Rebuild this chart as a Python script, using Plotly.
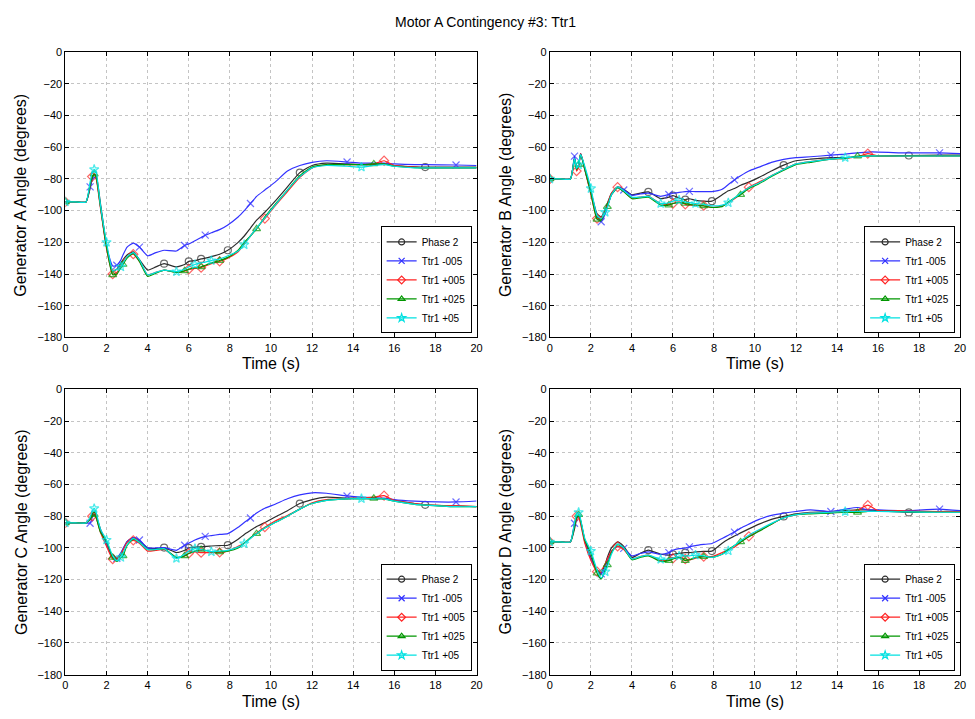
import plotly.graph_objects as go

# ---------------- data ----------------
T = [0, 0.5, 1.0, 1.2, 1.3, 1.4, 1.5, 1.7, 2.0, 2.3, 2.5, 2.7, 2.8, 3.0, 3.3, 3.6,
     4.0, 4.4, 4.8, 5.4, 5.8, 6.0, 6.3, 6.6, 6.8, 7.1, 7.5, 7.9, 8.4, 8.7, 9.0, 9.3,
     9.7, 10.2, 10.8, 11.4, 12.0, 12.7, 13.7, 14.4, 15.0, 15.5, 16.0, 17.0, 17.5, 19.0, 20.0]

SERIES_NAMES = ["Phase 2", "Ttr1 -005", "Ttr1 +005", "Ttr1 +025", "Ttr1 +05"]

MARK_P2 = [4.8, 6.0, 6.6, 7.9, 11.4, 17.5]
MARK_B = [1.2, 2.5, 3.6, 5.8, 6.8, 9.0, 13.7, 19.0]
MARK_R = [0, 1.3, 2.3, 3.3, 6.0, 6.6, 7.5, 9.7, 15.5]
MARK_G = [0, 1.4, 2.3, 2.8, 5.8, 6.6, 7.5, 9.3, 15.0]
MARK_C = [0, 1.4, 2.0, 2.7, 5.4, 6.3, 7.1, 8.7, 14.4]

# Generator A
A_P2 = [-94.5, -94.5, -94.5, -86, -80, -77, -78, -95, -122, -138, -137, -133, -131, -128, -126, -131,
        -137.5, -135.5, -133.5, -135.5, -134, -132, -131.5, -130.5, -130, -129, -127.5, -125, -120, -116,
        -111, -106, -101, -94, -85, -76, -71.5, -70, -70.5, -71, -71, -70.5, -71.5, -72.3, -72.5, -72.5, -72.5]
A_B = [-94.5, -94.5, -94.5, -85, -81, -79, -80, -97, -123, -135, -134.5, -131, -128, -123, -120.5, -123,
       -128.5, -126.5, -125, -125.5, -122, -121, -119, -117, -115.5, -114, -112, -109, -104, -100,
       -95.5, -91, -87, -82, -75, -71.5, -69.5, -68.5, -69.3, -70, -70, -70, -70.5, -71, -71, -71.2, -71.5]
A_R = [-94.5, -94.5, -94.5, -84, -78.5, -77, -80, -98, -124, -140, -139, -135, -132, -129, -127.5, -132,
       -140.5, -139, -137.5, -139, -138, -137, -136.5, -136, -135, -133.5, -132, -130, -126, -121,
       -116, -111, -105, -97, -88, -79, -73, -71, -71, -71, -70.5, -68.5, -71.5, -72.5, -73, -73, -73]
A_G = [-94.5, -94.5, -94.5, -84, -79, -77, -79, -97, -123, -140.5, -140, -136, -134, -130, -127, -132,
       -141.5, -139.5, -137.5, -139, -138, -137, -136, -135.5, -134.5, -133, -131.5, -129.5, -125, -120,
       -116, -111.5, -104, -96, -87, -78, -72.5, -71, -71, -71, -70.5, -70.5, -72, -72.8, -73, -73, -73]
A_C = [-94.5, -94.5, -94.5, -82, -76, -74, -76, -96, -120, -138, -137, -135.5, -133, -129, -126.5, -131,
       -140.5, -139, -137.5, -138.5, -137, -135.5, -134, -133, -132.5, -131.5, -130.5, -128.5, -125.5, -121.5,
       -116, -111, -104.5, -96.5, -87, -78.5, -73, -71.5, -72, -72.5, -71.5, -71, -72, -73, -73, -73, -73]

# Generator B
B_P2 = [-80, -80, -80, -67, -74, -71, -64, -73, -88, -102, -104, -99, -95.5, -89, -85, -86.5,
        -90, -89, -88.2, -92.4, -91.5, -90.5, -92, -93, -92.5, -93.5, -94, -94, -90, -87.5,
        -86, -84, -82, -79, -75, -71.3, -68.5, -67.5, -66.5, -66.5, -66, -65.5, -65.5, -65.3, -65.2, -65, -65]
B_B = [-80, -80, -80, -65.6, -73, -72, -64, -74, -89, -104, -107, -102, -98, -90, -85.5, -87,
       -90.3, -89.5, -89, -91, -89.8, -89, -88.5, -88, -87.8, -88, -88, -88, -86.5, -83.5,
       -80.6, -78, -75, -72.5, -69.5, -67.6, -66.5, -66, -65, -64.3, -63.5, -63, -63, -63.5, -63.5, -63.5, -64]
B_R = [-80, -80, -80, -68, -75, -72, -64, -74, -90, -105, -104.5, -100, -96.5, -89, -85.2, -88,
       -92, -91.5, -91, -95.5, -96, -95.5, -94.5, -96, -96.5, -96.5, -96.9, -98, -97, -95,
       -92.5, -89.5, -85.2, -82, -78, -74, -70.5, -69, -67.5, -67, -66, -64, -65.5, -65.5, -65.5, -65.5, -65.5]
B_G = [-80, -80, -80, -67, -74, -71, -64.5, -74, -89, -105.5, -106, -100.5, -97.5, -90, -85.5, -88,
       -92.5, -92, -91.5, -96.5, -96.5, -95.5, -95, -95.5, -96, -96.5, -97, -98, -97.5, -94.5,
       -92, -89.9, -86, -83, -78.5, -74.5, -71, -69.5, -67.5, -67, -65.6, -65.5, -65.5, -65.5, -65.5, -65.5, -65.5]
B_C = [-80, -80, -80, -67, -73, -71, -64.5, -72, -86, -103, -105, -101, -98, -90, -85, -87.5,
       -91.5, -91.5, -91, -95.5, -95, -94, -93.4, -94.5, -95, -95.5, -96, -97, -96.5, -95,
       -92, -89, -85.5, -82.5, -78, -74, -70.5, -69, -67.5, -66.5, -66, -65.5, -65.5, -65.5, -65.5, -65.5, -65.5]

# Generator C
C_P2 = [-84.2, -84.2, -84.2, -82, -79, -77.6, -80, -88, -98, -106, -107, -103.5, -101, -96, -93.5, -95.5,
        -100, -100.5, -99.8, -102.9, -101.5, -100, -99.5, -99.3, -99, -98.8, -98.5, -98.3, -94.5, -91.5,
        -89, -86.5, -84, -80.5, -76.5, -72, -69.5, -68, -68.5, -68.7, -69, -69, -70, -72, -72.8, -73.5, -73.9]
C_B = [-84.2, -84.2, -84.2, -84.4, -81, -79, -81, -89, -98, -106, -106.5, -103, -100.5, -96, -93.5, -95,
       -100, -100, -99.8, -101.5, -98.3, -97, -95, -93.5, -92.7, -92.2, -91.5, -91, -87, -84,
       -81.1, -78, -75, -72.4, -69, -66.5, -65.2, -65.5, -67.2, -68, -68.3, -68.5, -69.5, -70.5, -70.8, -71, -70.4]
C_R = [-84.2, -84.2, -84.2, -82, -80, -79, -81, -90, -99, -107, -106.5, -104, -101.5, -96.5, -95.2, -97,
       -102, -101.5, -101, -106, -105, -103.5, -102.5, -103, -103, -103, -102.8, -102, -99, -97,
       -94, -90.5, -86.9, -83, -79.5, -75.5, -71.5, -69.5, -69, -68.5, -68, -67, -70, -72, -72.8, -73.5, -74]
C_G = [-84.2, -84.2, -84.2, -82, -80, -79, -81, -90, -96, -106, -108.5, -106, -105, -98.5, -94.5, -96.5,
       -101, -101, -100.5, -106, -105, -103.5, -102, -101, -101.5, -102.5, -102.5, -102, -100, -97,
       -93.5, -91, -87.5, -84, -80, -75.5, -72, -70, -69, -69, -68.7, -69, -70.5, -72.5, -73, -74, -74]
C_C = [-84.2, -84.2, -84.2, -80.7, -77, -75.1, -78, -88, -95, -105, -108, -106, -103.5, -98, -94, -96.5,
       -101, -101, -100.5, -106.6, -104, -102, -100.4, -101, -101.5, -102.4, -102, -101.5, -99.5, -97.3,
       -94, -91, -87.5, -84, -80, -75.5, -72, -70, -69, -68.9, -69, -69, -70.5, -72.5, -73, -74, -74]

# Generator D
D_P2 = [-96.2, -96.2, -96.2, -88, -82, -79.7, -83, -95, -106, -114, -115.5, -110, -106, -100, -96.2, -99,
        -106, -103.5, -101.4, -104, -104.5, -104.1, -103.5, -103, -103, -102.5, -102.2, -102, -97, -94.5,
        -92.5, -90.5, -88, -85, -82, -80.1, -78.5, -77.5, -77, -76.5, -76, -76, -76.5, -77.3, -77.6, -77, -77]
D_B = [-96.2, -96.2, -96.2, -84.4, -81, -80, -84, -96, -107, -114.5, -116.3, -112, -108, -102, -99, -100.3,
       -105, -103.5, -102.5, -104, -103, -101.5, -100.5, -100, -99.3, -98.5, -97.8, -97.2, -94, -92,
       -90, -87.5, -85, -82, -79.5, -78, -77, -76, -77, -75.5, -74.5, -76, -76, -76.5, -76.5, -75.5, -76.5]
D_R = [-96.2, -96.2, -96.2, -85, -80, -80.5, -85, -97, -108, -115, -114, -110, -107, -102, -99, -101,
       -107, -105.5, -104.5, -108, -107.5, -106.6, -106, -107, -107.6, -106.5, -105.5, -105.5, -103, -101,
       -99.5, -96.5, -92.7, -89, -85, -81, -79, -78, -77.5, -77, -76, -73, -76.5, -76.5, -76.8, -77, -77]
D_G = [-96.2, -96.2, -96.2, -86, -81, -79, -83, -95, -103.5, -116, -119.6, -114, -110.7, -103, -98, -100,
       -107.5, -106, -105, -108.5, -108, -107, -106, -108, -107.5, -106, -105.5, -106, -104, -101,
       -98.5, -96.2, -93, -89.5, -85, -81, -79, -78.5, -78, -77.5, -77.6, -77, -77, -77, -77.2, -77.5, -77.5]
D_C = [-96.2, -96.2, -96.2, -84, -79, -77.6, -82, -94, -102, -114, -119, -115, -112, -104, -97.5, -100,
       -107, -105.5, -104.5, -107.2, -107, -106.5, -105.1, -105, -105, -104.5, -105, -106, -104, -101.8,
       -98.5, -95.5, -92, -88.5, -84.5, -81, -79, -78, -77.5, -77, -77, -77, -77, -77.2, -77.3, -77.5, -77.5]

X_TICKS = list(range(0, 21, 2))
Y_TICKS = list(range(-180, 1, 20))

PANELS = [
    ("Generator A Angle (degrees)", [A_P2, A_B, A_R, A_G, A_C]),
    ("Generator B Angle (degrees)", [B_P2, B_B, B_R, B_G, B_C]),
    ("Generator C Angle (degrees)", [C_P2, C_B, C_R, C_G, C_C]),
    ("Generator D Angle (degrees)", [D_P2, D_B, D_R, D_G, D_C]),
]
MARKS = [MARK_P2, MARK_B, MARK_R, MARK_G, MARK_C]

# ---------------- style ----------------
W, H = 975, 719
FONT = "Liberation Sans, Arial, sans-serif"
COLORS = ["rgb(45,45,45)", "rgb(50,50,255)", "rgb(255,35,35)", "rgb(0,150,0)", "rgb(0,225,225)"]
SYMBOLS = ["circle-open", "x-thin-open", "diamond-open", "triangle-up-open", "star-open"]

# plot boxes in pixels: (left, right, top, bottom)
BOXES = [(63, 478, 47, 337), (552, 966, 47, 337), (63, 478, 390, 680), (552, 966, 390, 680)]

fig = go.Figure()
layout = dict(
    width=W, height=H,
    margin=dict(l=0, r=0, t=0, b=0),
    paper_bgcolor="white", plot_bgcolor="white",
    font=dict(family=FONT, color="black"),
    showlegend=True,
    annotations=[],
)

for i, (ylabel, series) in enumerate(PANELS):
    k = i + 1
    xa = "x" if k == 1 else f"x{k}"
    ya = "y" if k == 1 else f"y{k}"
    lg = "legend" if k == 1 else f"legend{k}"
    l, r, t, b = BOXES[i]
    axis_common = dict(
        showline=True, linecolor="black", linewidth=1, mirror="ticks",
        ticks="inside", ticklen=4, tickcolor="black",
        showgrid=True, gridcolor="#c4c4c4", griddash="dot", gridwidth=1,
        zeroline=False, tickfont=dict(size=11, family=FONT, color="black"),
        fixedrange=True,
    )
    layout["xaxis" if k == 1 else f"xaxis{k}"] = dict(
        axis_common, domain=[l / W, r / W], range=[0, 20], tickvals=X_TICKS,
        anchor=ya,
    )
    layout["yaxis" if k == 1 else f"yaxis{k}"] = dict(
        axis_common, domain=[1 - b / H, 1 - t / H], range=[-180, 0], tickvals=Y_TICKS,
        anchor=xa,
    )
    for j, vals in enumerate(series):
        sizes = [7 if tt in MARKS[j] else 0 for tt in T]
        fig.add_trace(go.Scatter(
            x=T, y=vals, mode="lines+markers", xaxis=xa, yaxis=ya,
            line=dict(color=COLORS[j], width=1.2, shape="spline", smoothing=0.5),
            marker=dict(symbol=SYMBOLS[j], size=sizes, color=COLORS[j],
                        line=dict(color=COLORS[j], width=1.2)),
            showlegend=False, hoverinfo="skip",
        ))
        fig.add_trace(go.Scatter(
            x=[None], y=[None], mode="lines+markers", xaxis=xa, yaxis=ya,
            name=SERIES_NAMES[j], legend=lg,
            line=dict(color=COLORS[j], width=1.2),
            marker=dict(symbol=SYMBOLS[j], size=6, color=COLORS[j],
                        line=dict(color=COLORS[j], width=1.2)),
            showlegend=True,
        ))
    layout[lg] = dict(
        x=(r - 5) / W, y=1 - (b - 4) / H, xanchor="right", yanchor="bottom",
        bordercolor="black", borderwidth=1, bgcolor="white",
        font=dict(size=10, family=FONT, color="black"),
        tracegroupgap=0, itemwidth=30,
    )
    layout["annotations"].append(dict(
        text=ylabel, textangle=-90, xref="paper", yref="paper",
        x=(l - 45) / W, y=1 - (t + b) / 2 / H, xanchor="center", yanchor="middle",
        showarrow=False, font=dict(size=16, family=FONT, color="black"),
    ))
    layout["annotations"].append(dict(
        text="Time (s)", xref="paper", yref="paper",
        x=(l + r) / 2 / W, y=1 - (b + 27) / H, xanchor="center", yanchor="middle",
        showarrow=False, font=dict(size=16, family=FONT, color="black"),
    ))

layout["annotations"].append(dict(
    text="Motor A Contingency #3: Ttr1", xref="paper", yref="paper",
    x=487 / W, y=1 - 16 / H, xanchor="center", yanchor="middle",
    showarrow=False, font=dict(size=14, family=FONT, color="black"),
))

fig.update_layout(**layout)
fig.write_html("out.html", config={"displayModeBar": False})
